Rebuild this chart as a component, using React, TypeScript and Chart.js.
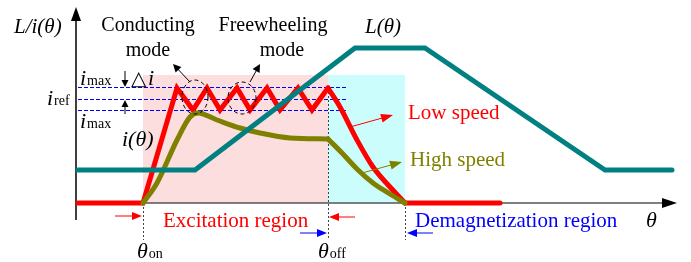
import React, { useEffect, useRef } from "react";
import { Chart, registerables } from "chart.js";

Chart.register(...registerables);

// θ (horizontal units) and amplitude (vertical units); 0 = horizontal axis
const inductanceTheta = [2, 119, 279, 349, 529, 596];
const inductanceValue = [33, 33, 155, 155, 33, 33];

const lowSpeedTheta = [2, 67, 101, 117, 131, 144, 161, 174, 191, 204, 222, 236, 252];
const lowSpeedCurrent = [0, 0, 115, 93, 115, 93, 115, 93, 115, 93, 115, 93, 115];
const lowSpeedDecayTheta = [252, 264, 281, 297, 314, 329];
const lowSpeedDecayCurrent = [115, 96, 63, 36, 16, 0];
const tailTheta = [329, 424];
const tailCurrent = [0, 0];

const highSpeedTheta = [67, 81, 101, 114, 122, 141, 164, 184, 214, 252];
const highSpeedCurrent = [0, 20, 63, 86, 90, 83, 75, 70, 65, 64];
const highSpeedDecayTheta = [252, 266, 281, 297, 314, 329];
const highSpeedDecayCurrent = [64, 50, 34, 20, 9, 0];

const thetaOn = 67;
const thetaOff = 252;
const thetaEnd = 329;
const iMaxUpper = 116;
const iRef = 104;
const iMaxLower = 93;
const regionTop = 128;

const SERIF = '"Liberation Serif", "DejaVu Serif", serif';

const pts = (xs: number[], ys: number[]) => xs.map((x, i) => ({ x, y: ys[i] }));

function arrow(ctx: CanvasRenderingContext2D, x1: number, y1: number, x2: number, y2: number, color: string, len = 8, half = 3.5, lw = 1) {
  const a = Math.atan2(y2 - y1, x2 - x1);
  ctx.save();
  ctx.strokeStyle = color;
  ctx.fillStyle = color;
  ctx.lineWidth = lw;
  ctx.setLineDash([]);
  ctx.beginPath();
  ctx.moveTo(x1, y1);
  ctx.lineTo(x2 - Math.cos(a) * len * 0.8, y2 - Math.sin(a) * len * 0.8);
  ctx.stroke();
  ctx.beginPath();
  ctx.moveTo(x2, y2);
  ctx.lineTo(x2 - Math.cos(a) * len - Math.sin(a) * half, y2 - Math.sin(a) * len + Math.cos(a) * half);
  ctx.lineTo(x2 - Math.cos(a) * len + Math.sin(a) * half, y2 - Math.sin(a) * len - Math.cos(a) * half);
  ctx.closePath();
  ctx.fill();
  ctx.restore();
}

function text(ctx: CanvasRenderingContext2D, s: string, x: number, y: number, font: string, color = "#000", align: CanvasTextAlign = "left") {
  ctx.save();
  ctx.font = font;
  ctx.fillStyle = color;
  ctx.textAlign = align;
  ctx.textBaseline = "alphabetic";
  ctx.fillText(s, x, y);
  ctx.restore();
}

function subText(ctx: CanvasRenderingContext2D, main: string, sub: string, x: number, y: number, size = 22) {
  ctx.save();
  ctx.font = `italic ${size}px ${SERIF}`;
  ctx.fillStyle = "#000";
  ctx.textBaseline = "alphabetic";
  ctx.fillText(main, x, y);
  const w = ctx.measureText(main).width;
  ctx.font = `14px ${SERIF}`;
  ctx.fillText(sub, x + w + 1, y);
  ctx.restore();
}

const annotations = {
  id: "annotations",
  beforeDatasetsDraw(chart: any) {
    const { ctx, scales } = chart;
    const X = (v: number) => scales.x.getPixelForValue(v);
    const Y = (v: number) => scales.y.getPixelForValue(v);
    ctx.save();
    ctx.fillStyle = "#fddede";
    ctx.fillRect(X(thetaOn), Y(regionTop), X(thetaOff) - X(thetaOn), Y(0) - Y(regionTop));
    ctx.fillStyle = "#ccfdfd";
    ctx.fillRect(X(thetaOff), Y(regionTop), X(thetaEnd) - X(thetaOff), Y(0) - Y(regionTop));
    ctx.strokeStyle = "#0000ff";
    ctx.lineWidth = 1;
    ctx.setLineDash([4, 2]);
    for (const lvl of [iMaxUpper, iRef, iMaxLower]) {
      ctx.beginPath();
      ctx.moveTo(X(2), Math.round(Y(lvl)) + 0.5);
      ctx.lineTo(X(272), Math.round(Y(lvl)) + 0.5);
      ctx.stroke();
    }
    ctx.strokeStyle = "#444";
    ctx.setLineDash([2, 2]);
    const verts: [number, number][] = [[thetaOn, 0], [thetaOff, 115], [thetaEnd, 0]];
    for (const [t, top] of verts) {
      ctx.beginPath();
      ctx.moveTo(Math.round(X(t)) + 0.5, Y(top));
      ctx.lineTo(Math.round(X(t)) + 0.5, Y(-37));
      ctx.stroke();
    }
    ctx.setLineDash([]);
    ctx.strokeStyle = "#555";
    ctx.lineWidth = 1.5;
    ctx.beginPath();
    ctx.moveTo(X(0), Y(0));
    ctx.lineTo(X(590), Y(0));
    ctx.stroke();
    ctx.strokeStyle = "#000";
    ctx.beginPath();
    ctx.moveTo(X(0), Y(-17));
    ctx.lineTo(X(0), Y(185));
    ctx.stroke();
    ctx.fillStyle = "#000";
    ctx.beginPath();
    ctx.moveTo(X(601), Y(0));
    ctx.lineTo(X(586), Y(0) - 5);
    ctx.lineTo(X(586), Y(0) + 5);
    ctx.closePath();
    ctx.fill();
    ctx.beginPath();
    ctx.moveTo(X(0), Y(196));
    ctx.lineTo(X(0) - 5, Y(182));
    ctx.lineTo(X(0) + 5, Y(182));
    ctx.closePath();
    ctx.fill();
    ctx.restore();
  },
  afterDatasetsDraw(chart: any) {
    const { ctx, scales } = chart;
    const X = (v: number) => scales.x.getPixelForValue(v);
    const Y = (v: number) => scales.y.getPixelForValue(v);
    ctx.save();
    ctx.strokeStyle = "#000";
    ctx.lineWidth = 1;
    ctx.setLineDash([4, 3]);
    const ells: [number, number, number, number][] = [[119, 106, 13, 17], [166, 105, 14, 16]];
    for (const [cx, cy, rx, ry] of ells) {
      ctx.beginPath();
      ctx.ellipse(X(cx), Y(cy), rx, ry, 0, 0, Math.PI * 2);
      ctx.stroke();
    }
    ctx.setLineDash([]);
    ctx.restore();

    arrow(ctx, X(114), Y(121), X(97), Y(139), "#000", 8, 4);
    arrow(ctx, X(174), Y(121), X(184), Y(139), "#000", 8, 4);
    arrow(ctx, X(49), Y(132), X(49), Y(116), "#000", 7, 3.5);
    arrow(ctx, X(49), Y(89), X(49), Y(103), "#000", 7, 3.5);
    arrow(ctx, X(274), Y(76), X(317), Y(88), "#ff0000", 12, 4.5);
    arrow(ctx, X(286), Y(30), X(326), Y(41), "#808000", 12, 4.5);
    arrow(ctx, X(39), Y(-13), X(66), Y(-13), "#ff0000", 10, 4);
    arrow(ctx, X(279), Y(-14), X(253), Y(-14), "#ff0000", 10, 4);
    arrow(ctx, X(224), Y(-30), X(251), Y(-30), "#0000ff", 10, 4);
    arrow(ctx, X(357), Y(-30), X(331), Y(-30), "#0000ff", 10, 4);

    const f20 = `20px ${SERIF}`;
    const f21 = `21px ${SERIF}`;
    text(ctx, "L/i(θ)", X(-62), Y(170), `italic 21px ${SERIF}`);
    text(ctx, "Conducting", X(72), Y(172), f20, "#000", "center");
    text(ctx, "mode", X(72), Y(147), f20, "#000", "center");
    text(ctx, "Freewheeling", X(197), Y(172), f20, "#000", "center");
    text(ctx, "mode", X(206), Y(147), f20, "#000", "center");
    text(ctx, "L(θ)", X(289), Y(170), `italic 21px ${SERIF}`);
    subText(ctx, "i", "max", X(4), Y(118));
    subText(ctx, "i", "ref", X(-29), Y(98));
    subText(ctx, "i", "max", X(4), Y(75));
    text(ctx, "△", X(55), Y(118), `20px ${SERIF}`);
    text(ctx, "i", X(72), Y(118), `italic 22px ${SERIF}`);
    text(ctx, "i(θ)", X(46), Y(57), `italic 22px ${SERIF}`);
    text(ctx, "Low speed", X(332), Y(84), f21, "#ff0000");
    text(ctx, "High speed", X(334), Y(37), f21, "#808000");
    text(ctx, "Excitation region", X(87), Y(-24), f21, "#ff0000");
    text(ctx, "Demagnetization region", X(339), Y(-24), f21, "#0000ff");
    text(ctx, "θ", X(570), Y(-24), `italic 22px ${SERIF}`);
    subText(ctx, "θ", "on", X(61), Y(-55));
    subText(ctx, "θ", "off", X(242), Y(-55));
  },
};

export default function App() {
  const ref = useRef<HTMLCanvasElement>(null);
  useEffect(() => {
    if (!ref.current) return;
    const line = (data: { x: number; y: number }[], color: string, smooth: boolean) => ({
      data,
      borderColor: color,
      backgroundColor: color,
      borderWidth: 5,
      pointRadius: 0,
      showLine: true,
      fill: false,
      borderCapStyle: "round" as const,
      borderJoinStyle: "miter" as const,
      cubicInterpolationMode: smooth ? ("monotone" as const) : ("default" as const),
      tension: 0,
    });
    const chart = new Chart(ref.current, {
      type: "scatter",
      data: {
        datasets: [
          line(pts(inductanceTheta, inductanceValue), "#008080", false),
          line(pts(highSpeedTheta, highSpeedCurrent), "#808000", true),
          line(pts(highSpeedDecayTheta, highSpeedDecayCurrent), "#808000", true),
          line(pts(lowSpeedTheta, lowSpeedCurrent), "#ff0000", false),
          line(pts(lowSpeedDecayTheta, lowSpeedDecayCurrent), "#ff0000", true),
          line(pts(tailTheta, tailCurrent), "#ff0000", false),
        ],
      },
      options: {
        animation: false,
        responsive: false,
        layout: { padding: 0 },
        plugins: { legend: { display: false }, tooltip: { enabled: false } },
        scales: {
          x: { type: "linear", min: -76, max: 615, display: false },
          y: { type: "linear", min: -59, max: 203, display: false },
        },
      },
      plugins: [annotations],
    });
    let alive = true;
    if ((document as any).fonts && (document as any).fonts.load) {
      Promise.all([
        (document as any).fonts.load(`20px "Liberation Serif"`),
        (document as any).fonts.load(`italic 20px "Liberation Serif"`),
      ]).then(() => { if (alive) chart.draw(); }).catch(() => {});
    }
    return () => { alive = false; chart.destroy(); };
  }, []);
  return (
    <div style={{ position: "fixed", left: 0, top: 0, width: 691, height: 262, background: "#fff" }}>
      <canvas ref={ref} width={691} height={262} style={{ display: "block" }} />
    </div>
  );
}
